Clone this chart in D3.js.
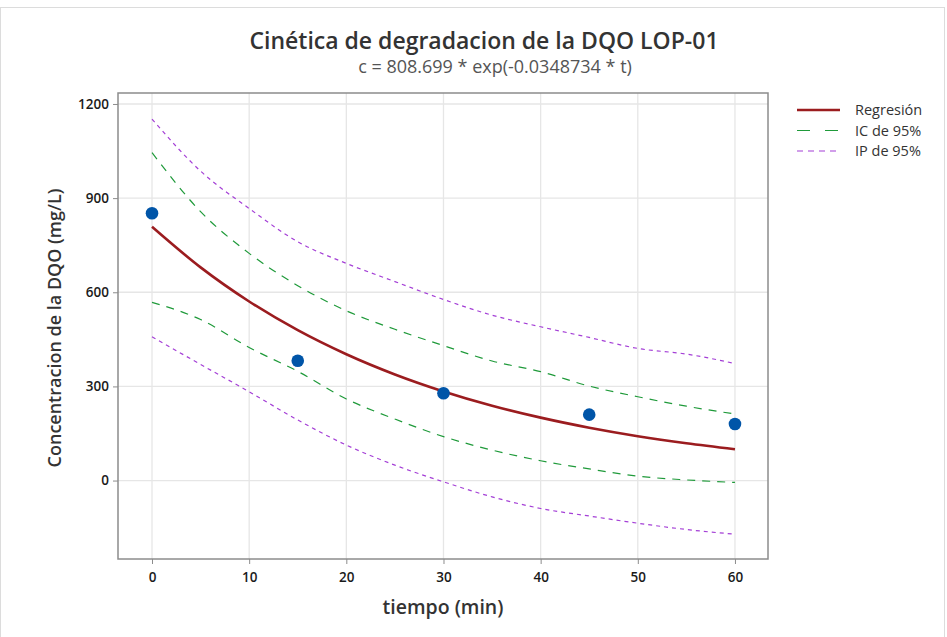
<!DOCTYPE html>
<html>
<head>
<meta charset="utf-8">
<script src="https://cdn.jsdelivr.net/npm/d3@7"></script>
<style>
  body { margin: 0; background: #fff; }
  svg text { font-family: "Open Sans", "Noto Sans", sans-serif; }
</style>
</head>
<body>
<svg width="947" height="637"></svg>
<script>
// observed data
const tObs = [0, 15, 30, 45, 60];
const cObs = [852, 382, 278, 210, 180];

// curves every 5 min
const tFit = [0, 5, 10, 15, 20, 25, 30, 35, 40, 45, 50, 55, 60];
const regresion = [808.7, 679.3, 570.6, 479.3, 402.6, 338.2, 284.1, 238.6, 200.5, 168.4, 141.4, 118.8, 99.8];
const icUpper = [1045, 857, 724, 621, 541, 482, 430, 381, 347, 301, 267, 237, 212];
const icLower = [568, 513, 424, 348, 260, 196, 140, 97, 63, 37, 14, 2, -6];
const ipUpper = [1152, 986, 867, 761, 692, 634, 577, 527, 490, 456, 421, 403, 373];
const ipLower = [458, 370, 283, 193, 113, 49, -4, -52, -89, -113, -136, -156, -171];

const xTicks = [0, 10, 20, 30, 40, 50, 60];
const yTicks = [0, 300, 600, 900, 1200];

const svg = d3.select('svg');

// outer figure border
svg.append('rect')
    .attr('x', 0.5).attr('y', 7.5)
    .attr('width', 944).attr('height', 640)
    .attr('fill', 'none')
    .attr('stroke', '#dcdcdc');

const pLeft = 118, pRight = 768, pTop = 93, pBottom = 559;

var x = d3.scaleLinear().domain([-3.5, 63.4]).range([pLeft, pRight]);
var y = d3.scaleLinear().domain([-250, 1235]).range([pBottom, pTop]);

// gridlines
svg.append('g')
    .selectAll('line')
    .data(xTicks)
    .enter()
    .append('line')
        .attr('x1', d => x(d)).attr('x2', d => x(d))
        .attr('y1', pTop).attr('y2', pBottom)
        .attr('stroke', '#e6e6e6')
        .attr('stroke-width', 1.3);

svg.append('g')
    .selectAll('line')
    .data(yTicks)
    .enter()
    .append('line')
        .attr('x1', pLeft).attr('x2', pRight)
        .attr('y1', d => y(d)).attr('y2', d => y(d))
        .attr('stroke', '#e6e6e6')
        .attr('stroke-width', 1.3);

// axes
const xAxis = svg.append('g')
    .attr('transform', 'translate(0,' + pBottom + ')')
    .call(d3.axisBottom(x).tickValues(xTicks).tickFormat(d3.format('d')).tickSize(5).tickPadding(8));
const yAxis = svg.append('g')
    .attr('transform', 'translate(' + pLeft + ',0)')
    .call(d3.axisLeft(y).tickValues(yTicks).tickFormat(d3.format('d')).tickSize(5).tickPadding(4));

[xAxis, yAxis].forEach(a => {
    a.select('.domain').remove();
    a.selectAll('line').attr('stroke', '#8c8c8c');
    a.selectAll('text')
        .attr('fill', '#1a1a1a')
        .style('font-size', '13.5px')
        .style('font-weight', 600);
});

// frame
svg.append('rect')
    .attr('x', pLeft).attr('y', pTop)
    .attr('width', pRight - pLeft).attr('height', pBottom - pTop)
    .attr('fill', 'none')
    .attr('stroke', '#8c8c8c')
    .attr('stroke-width', 1.5);

const line = (vals) => d3.line()
    .x((d, i) => x(tFit[i]))
    .y(d => y(d))
    .curve(d3.curveMonotoneX)(vals);

const series = [
    {vals: ipUpper, color: '#a43fd6', dash: '4,4', w: 1.2},
    {vals: ipLower, color: '#a43fd6', dash: '4,4', w: 1.2},
    {vals: icUpper, color: '#1f9a3a', dash: '8,7', w: 1.2},
    {vals: icLower, color: '#1f9a3a', dash: '8,7', w: 1.2},
    {vals: regresion, color: '#9b1c1f', dash: null, w: 2.6}
];

svg.append('g')
    .selectAll('path')
    .data(series)
    .enter()
    .append('path')
        .attr('d', d => line(d.vals))
        .attr('fill', 'none')
        .attr('stroke', d => d.color)
        .attr('stroke-width', d => d.w)
        .attr('stroke-dasharray', d => d.dash);

// observed points
svg.append('g')
    .selectAll('circle')
    .data(tObs)
    .enter()
    .append('circle')
        .attr('cx', d => x(d))
        .attr('cy', (d, i) => y(cObs[i]))
        .attr('r', 6.3)
        .attr('fill', '#0055a8');

// titles
svg.append('text')
    .attr('x', 484).attr('y', 49)
    .attr('text-anchor', 'middle')
    .attr('fill', '#333')
    .style('font-size', '23px')
    .style('font-weight', 600)
    .text('Cinética de degradacion de la DQO LOP-01');

svg.append('text')
    .attr('x', 495).attr('y', 73)
    .attr('text-anchor', 'middle')
    .attr('fill', '#555')
    .style('font-size', '18px')
    .text('c = 808.699 * exp(-0.0348734 * t)');

svg.append('text')
    .attr('x', 443).attr('y', 614)
    .attr('text-anchor', 'middle')
    .attr('fill', '#333')
    .style('font-size', '19.5px')
    .style('font-weight', 600)
    .text('tiempo (min)');

svg.append('text')
    .attr('transform', 'translate(61,328) rotate(-90)')
    .attr('text-anchor', 'middle')
    .attr('fill', '#333')
    .style('font-size', '18px')
    .style('font-weight', 600)
    .text('Concentracion de la DQO (mg/L)');

// legend
const legendItems = [
    {label: 'Regresión', color: '#9b1c1f', dash: null, w: 2.6},
    {label: 'IC de 95%', color: '#1f9a3a', dash: '13,15', w: 1.2},
    {label: 'IP de 95%', color: '#a43fd6', dash: '6,5', w: 1.2}
];

const legend = svg.append('g')
    .selectAll('g')
    .data(legendItems)
    .enter()
    .append('g')
        .attr('transform', (d, i) => 'translate(797,' + (110 + i * 20.5) + ')');

legend.append('line')
    .attr('x1', 0).attr('x2', 43)
    .attr('stroke', d => d.color)
    .attr('stroke-width', d => d.w)
    .attr('stroke-dasharray', d => d.dash);

legend.append('text')
    .attr('x', 855 - 797).attr('y', 5)
    .attr('fill', '#333')
    .style('font-size', '14.5px')
    .text(d => d.label);
</script>
</body>
</html>
